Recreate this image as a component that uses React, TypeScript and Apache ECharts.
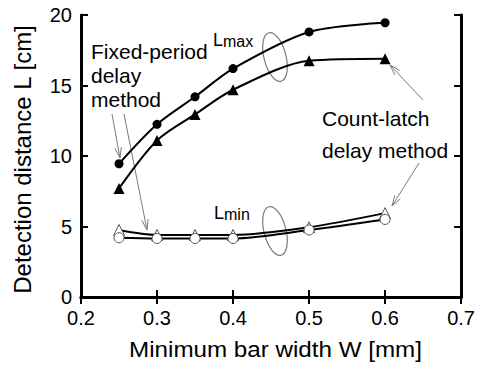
import React, { useEffect, useRef } from "react";
import * as echarts from "echarts";

const widths = [0.25, 0.3, 0.35, 0.4, 0.5, 0.6];
const lmaxFixed = [9.45, 12.25, 14.2, 16.2, 18.8, 19.45];
const lmaxCount = [7.7, 11.1, 12.95, 14.7, 16.75, 16.9];
const lminCount = [4.75, 4.4, 4.4, 4.4, 4.95, 5.95];
const lminFixed = [4.2, 4.15, 4.15, 4.15, 4.75, 5.5];
const xTicks = { min: 0.2, max: 0.7, interval: 0.1 };
const yTicks = { min: 0, max: 20, interval: 5 };
const xName = "Minimum bar width W [mm]";
const yName = "Detection distance L [cm]";

const FONT = "'Liberation Sans', Arial, Helvetica, sans-serif";
const GRAY = "#7a7a7a";

function pairs(xs: number[], ys: number[]) {
  return xs.map((x, i) => [x, ys[i]]);
}

function arrow(x1: number, y1: number, x2: number, y2: number) {
  const ang = Math.atan2(y2 - y1, x2 - x1);
  const len = 11;
  const spread = 0.3;
  const a1 = ang + Math.PI - spread;
  const a2 = ang + Math.PI + spread;
  const style = { stroke: GRAY, lineWidth: 1 };
  return [
    { type: "line", shape: { x1, y1, x2, y2 }, style },
    {
      type: "polyline",
      shape: {
        points: [
          [x2 + len * Math.cos(a1), y2 + len * Math.sin(a1)],
          [x2, y2],
          [x2 + len * Math.cos(a2), y2 + len * Math.sin(a2)],
        ],
      },
      style,
    },
  ];
}

export default function App() {
  const ref = useRef<HTMLDivElement>(null);
  useEffect(() => {
    if (!ref.current) return;
    const chart = echarts.init(ref.current, null, { renderer: "svg" });
    const axisLine = { show: true, lineStyle: { color: "#000", width: 3 } };
    const axisTick = { show: true, inside: true, length: 7, lineStyle: { color: "#000", width: 2 } };
    const lineSeries = (data: number[], symbol: string, size: number, open: boolean) => ({
      type: "line",
      data: pairs(widths, data),
      symbol,
      symbolSize: size,
      smooth: 0.3,
      lineStyle: { color: "#000", width: 2 },
      itemStyle: open
        ? { color: "#fff", borderColor: "#555", borderWidth: 1 }
        : { color: "#000", borderColor: "#000", borderWidth: 0 },
      z: open ? 3 : 2,
    });
    const sub = {
      a: { fontSize: 18, fontFamily: FONT, verticalAlign: "bottom", fill: "#000" },
      b: { fontSize: 16, fontFamily: FONT, verticalAlign: "bottom", fill: "#000" },
    };
    chart.setOption({
      animation: false,
      backgroundColor: "#fff",
      textStyle: { fontFamily: FONT },
      grid: { left: 81, right: 15, top: 15, bottom: 68, containLabel: false },
      xAxis: [
        {
          type: "value",
          ...xTicks,
          axisLine,
          axisTick,
          splitLine: { show: false },
          axisLabel: { color: "#000", fontSize: 20, margin: 11, fontFamily: FONT, formatter: (v: number) => v.toFixed(1) },
        },
        {
          type: "value",
          position: "top",
          ...xTicks,
          axisLine,
          axisTick,
          splitLine: { show: false },
          axisLabel: { show: false },
        },
      ],
      yAxis: [
        {
          type: "value",
          ...yTicks,
          axisLine,
          axisTick,
          splitLine: { show: false },
          axisLabel: { color: "#000", fontSize: 20, margin: 9, fontFamily: FONT },
        },
        {
          type: "value",
          position: "right",
          ...yTicks,
          axisLine,
          axisTick,
          splitLine: { show: false },
          axisLabel: { show: false },
        },
      ],
      series: [
        lineSeries(lmaxFixed, "circle", 9, false),
        lineSeries(lmaxCount, "triangle", 11, false),
        lineSeries(lminCount, "triangle", 11, true),
        lineSeries(lminFixed, "circle", 10, true),
      ],
      graphic: [
        {
          type: "text",
          x: 275.5,
          y: 349,
          scaleX: 1.1,
          style: { text: xName, font: `22px ${FONT}`, fill: "#000", align: "center", verticalAlign: "middle" },
        },
        {
          type: "text",
          x: 22,
          y: 159.5,
          rotation: Math.PI / 2,
          style: { text: yName, font: `24px ${FONT}`, fill: "#000", align: "center", verticalAlign: "middle" },
        },
        {
          type: "text",
          left: 91,
          top: 39,
          style: {
            text: "Fixed-period\ndelay\nmethod",
            font: `21px ${FONT}`,
            fill: "#000",
            lineHeight: 24,
          },
        },
        {
          type: "text",
          left: 322,
          top: 102,
          style: {
            text: "Count-latch\ndelay method",
            font: `21px ${FONT}`,
            fill: "#000",
            lineHeight: 32,
            align: "left",
          },
        },
        {
          type: "text",
          left: 213,
          top: 31,
          style: { text: "{a|L}{b|max}", fill: "#000", rich: sub },
        },
        {
          type: "text",
          left: 214,
          top: 204,
          style: { text: "{a|L}{b|min}", fill: "#000", rich: sub },
        },
        {
          type: "ellipse",
          x: 275,
          y: 57,
          rotation: 0.25,
          shape: { cx: 0, cy: 0, rx: 11, ry: 25 },
          style: { fill: "none", stroke: GRAY, lineWidth: 1.2 },
        },
        {
          type: "ellipse",
          x: 275,
          y: 231,
          rotation: 0.25,
          shape: { cx: 0, cy: 0, rx: 11, ry: 25 },
          style: { fill: "none", stroke: GRAY, lineWidth: 1.2 },
        },
        ...arrow(112, 114, 120, 158),
        ...arrow(124, 114, 147, 230),
        ...arrow(423, 100, 390, 65),
        ...arrow(419, 163, 392, 206),
      ],
    });
    return () => chart.dispose();
  }, []);
  return <div ref={ref} style={{ position: "fixed", left: 0, top: 0, width: 478, height: 365 }} />;
}
